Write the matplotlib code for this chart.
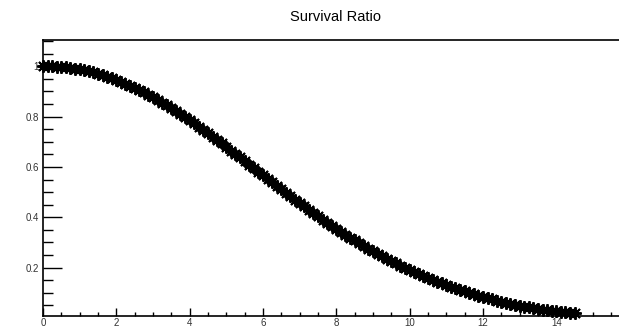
import numpy as np
from matplotlib import pyplot as plt
from matplotlib.ticker import MultipleLocator, FixedLocator

# survival ratio sampled every 0.125 starting at t = 0
t_start = 0.0
t_step = 0.125
ratio = [
    1.000, 1.000, 0.999, 0.998, 0.997, 0.995, 0.993, 0.990,
    0.987, 0.983, 0.979, 0.975, 0.970, 0.964, 0.958, 0.952,
    0.945, 0.938, 0.930, 0.922, 0.914, 0.905, 0.896, 0.886,
    0.876, 0.866, 0.855, 0.844, 0.833, 0.821, 0.810, 0.797,
    0.785, 0.773, 0.760, 0.747, 0.733, 0.720, 0.707, 0.693,
    0.679, 0.665, 0.652, 0.638, 0.624, 0.609, 0.595, 0.581,
    0.567, 0.553, 0.539, 0.525, 0.511, 0.497, 0.484, 0.470,
    0.457, 0.443, 0.430, 0.417, 0.404, 0.391, 0.379, 0.366,
    0.354, 0.342, 0.331, 0.319, 0.308, 0.297, 0.286, 0.275,
    0.265, 0.255, 0.245, 0.235, 0.226, 0.217, 0.208, 0.199,
    0.191, 0.182, 0.174, 0.167, 0.159, 0.152, 0.145, 0.138,
    0.132, 0.125, 0.118, 0.112, 0.106, 0.100, 0.094, 0.089,
    0.083, 0.078, 0.074, 0.069, 0.065, 0.061, 0.057, 0.053,
    0.049, 0.046, 0.043, 0.040, 0.037, 0.034, 0.032, 0.030,
    0.027, 0.025, 0.023, 0.021, 0.019,
]
t = t_start + t_step * np.arange(len(ratio))

y_ticks = [0.2, 0.4, 0.6, 0.8, 1.0]
y_labels = ["0.2", "0.4", "0.6", "0.8", "1"]
x_ticks = [0, 2, 4, 6, 8, 10, 12, 14]

plt.rcParams['font.family'] = ['Liberation Sans', 'DejaVu Sans']

fig = plt.figure(figsize=(6.19, 3.27), dpi=100)
ax = fig.add_axes([43 / 619, (327 - 315.7) / 327, 1 - 43 / 619, (315.7 - 40) / 327])

# asterisk markers, like a ROOT TGraph drawn with option "P" and kStar
ax.plot(t, ratio, linestyle='none', marker=(8, 2, 0), markersize=9,
        markeredgewidth=1.4, color='black', clip_on=False, zorder=3)

ax.set_xlim(0, 15.71)
ax.set_ylim(0.0095, 1.1036)

ax.xaxis.set_major_locator(FixedLocator(x_ticks))
ax.xaxis.set_minor_locator(MultipleLocator(0.5))
ax.yaxis.set_major_locator(FixedLocator(y_ticks))
ax.yaxis.set_minor_locator(MultipleLocator(0.05))
ax.set_yticklabels(y_labels)

ax.tick_params(axis='y', which='major', direction='in', length=14, width=1, labelsize=7, pad=3, labelcolor='#333333')
ax.tick_params(axis='y', which='minor', direction='in', length=7.5, width=1)
ax.tick_params(axis='x', which='major', direction='in', length=5.5, width=1, labelsize=7, pad=2, labelcolor='#333333')
ax.tick_params(axis='x', which='minor', direction='in', length=3, width=1)

ax.spines['right'].set_visible(False)
for s in ['left', 'bottom', 'top']:
    ax.spines[s].set_linewidth(1.2)

fig.text(335 / 619, (327 - 17) / 327, "Survival Ratio", ha='center', va='center', fontsize=10.5)

plt.savefig("out.png", dpi=100)
